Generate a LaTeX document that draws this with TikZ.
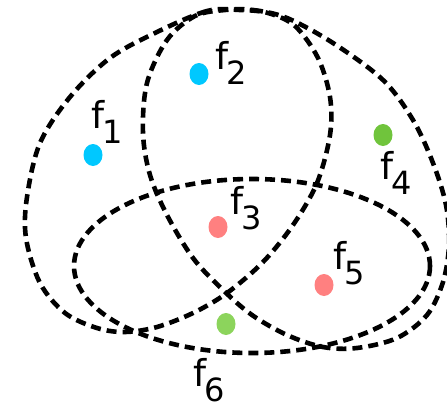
\documentclass[tikz,border=0pt]{standalone}
\usepackage{fontspec}
\setmainfont{DejaVu Sans}
\usetikzlibrary{shapes.geometric}
\definecolor{cblue}{RGB}{0,200,255}
\definecolor{cred}{RGB}{255,128,128}
\definecolor{cgreenA}{RGB}{112,196,60}
\definecolor{cgreenB}{RGB}{140,212,92}
\newcommand{\flab}[1]{\fontsize{37}{37}\selectfont f\kern-2pt\raisebox{-15pt}{\fontsize{32}{32}\selectfont #1}}
\tikzset{
  setline/.style={line width=4.6pt, dash pattern=on 10pt off 6pt, black},
  dot/.style={ellipse, minimum width=19pt, minimum height=22pt, inner sep=0pt, draw=none},
  lab/.style={anchor=base west, inner sep=0pt, outer sep=0pt}
}
\begin{document}
\begin{tikzpicture}[x=1pt,y=-1pt]
\useasboundingbox (0,0) rectangle (447,410);
\clip (0,0) rectangle (447,410);
% shape A (left blob)
\draw[setline] plot[smooth cycle, tension=0.55] coordinates {
(240,10) (207,11) (157,32) (110,58) (70,97) (40,143) (27,197) (26,238) (40,283) (65,313) (97,328) (125,332)
(157,327) (193,313) (227,293) (263,262) (293,225) (317,183) (330,135) (330,97) (318,58) (295,26) (268,13)};
% shape B (right blob)
\draw[setline] plot[smooth cycle, tension=0.55] coordinates {
(225,10) (253,10) (287,18) (333,43) (383,80) (413,120) (433,163) (446,205) (449,245) (443,282) (427,315) (397,338)
(357,348) (323,347) (287,335) (252,315) (223,290) (193,258) (167,215) (150,175) (143,133) (147,83) (167,40) (195,16)};
% ellipse C
\draw[setline] (252,266) ellipse [x radius=178, y radius=87];
% dots
\node[dot, fill=cblue] (d1) at (93,155) {};
\node[dot, fill=cblue] (d2) at (199,74) {};
\node[dot, fill=cred] (d3) at (218,227) {};
\node[dot, fill=cgreenA] (d4) at (383,135) {};
\node[dot, fill=cred] (d5) at (324,285) {};
\node[dot, fill=cgreenB] (d6) at (226,324) {};
% labels
\node[lab] (l1) at (91,128) {\flab{1}};
\node[lab] (l2) at (215,69) {\flab{2}};
\node[lab] (l3) at (230,214) {\flab{3}};
\node[lab] (l4) at (380,179) {\flab{4}};
\node[lab] (l5) at (333,269) {\flab{5}};
\node[lab] (l6) at (193,386) {\flab{6}};
\end{tikzpicture}
\end{document}
